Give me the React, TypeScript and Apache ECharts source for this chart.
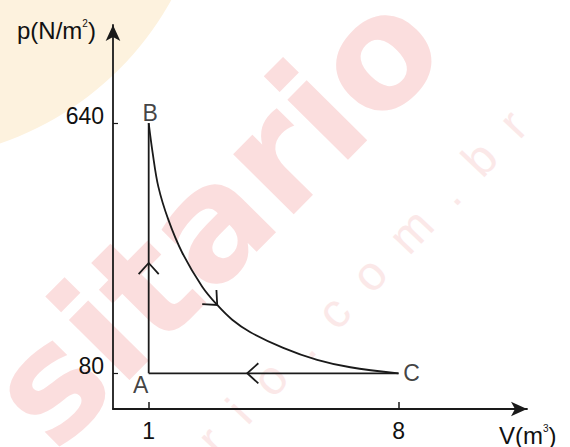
import React, { useEffect, useRef } from "react";
import * as echarts from "echarts";

// ---- data ----
const pointNames = ["A", "B", "C"];
const pointV = [1, 1, 8];
const pointP = [80, 640, 80];

// process A -> B (isochoric)
const abV = [1, 1];
const abP = [80, 640];

// process B -> C (curve)
const curveV = [1, 1.11, 1.27, 1.55, 1.94, 2.5, 2.92, 3.34, 3.85, 4.77, 5.72, 6.65, 8];
const curveP = [640, 574, 498, 424, 350, 274, 233, 200, 172, 137, 110, 93.5, 80];

// process C -> A (isobaric)
const caV = [8, 1];
const caP = [80, 80];

// direction arrows on the cycle: position and heading (degrees)
const arrowV = [1, 2.92, 3.76];
const arrowP = [327, 233, 80];
const arrowDir = [90, -45, 180];

// axis ticks
const xTicks = [1, 8];
const yTicks = [80, 640];

const INK = "#1a1a1a";
const FONT = "'Liberation Sans', Arial, Helvetica, sans-serif";

export default function App() {
  const ref = useRef<HTMLDivElement>(null);

  useEffect(() => {
    if (!ref.current) return;
    const chart = echarts.init(ref.current, undefined, { renderer: "svg" });

    const labelOffsets: Record<string, number[]> = {
      A: [-8, 12],
      B: [1.5, -10.5],
      C: [13, 0],
    };

    const option: any = {
      animation: false,
      backgroundColor: "#ffffff",
      grid: { left: 113, right: 43, top: 25, bottom: 38, containLabel: false },
      xAxis: {
        type: "value",
        min: 0,
        max: 11.6,
        axisLine: {
          show: true,
          symbol: ["none", "arrow"],
          symbolSize: [11, 16],
          lineStyle: { color: INK, width: 1.8 },
        },
        axisTick: {
          show: true,
          inside: true,
          length: 7,
          customValues: xTicks,
          lineStyle: { color: INK, width: 1.5 },
        },
        axisLabel: {
          customValues: xTicks,
          fontSize: 23,
          fontFamily: FONT,
          color: "#111",
          margin: 10,
        },
        splitLine: { show: false },
      },
      yAxis: {
        type: "value",
        min: 0,
        max: 860,
        axisLine: {
          show: true,
          symbol: ["none", "arrow"],
          symbolSize: [11, 16],
          lineStyle: { color: INK, width: 1.8 },
        },
        axisTick: {
          show: true,
          inside: true,
          length: 5,
          customValues: yTicks,
          lineStyle: { color: INK, width: 1.2 },
        },
        axisLabel: {
          customValues: yTicks,
          fontSize: 23,
          fontFamily: FONT,
          color: "#111",
          margin: 9,
          verticalAlign: "bottom",
          lineHeight: 14,
        },
        splitLine: { show: false },
      },
      graphic: [
        {
          type: "circle",
          z: -20,
          silent: true,
          shape: { cx: -100, cy: -150, r: 310 },
          style: { fill: "#fdf2de" },
        },
        {
          type: "text",
          z: -10,
          silent: true,
          x: 215,
          y: 217,
          rotation: 0.79,
          style: {
            text: "sitario",
            fontSize: 156,
            fontWeight: "bold",
            fontFamily: "'DejaVu Sans', sans-serif",
            align: "center",
            verticalAlign: "middle",
            fill: "#fbdede",
          },
        },
        {
          type: "text",
          z: -10,
          silent: true,
          x: 362,
          y: 282,
          rotation: 0.81,
          style: {
            text: "r  i  o  .  c  o  m  .  b  r",
            fontSize: 48,
            fontFamily: FONT,
            align: "center",
            verticalAlign: "middle",
            fill: "#fbe8e8",
          },
        },
        {
          type: "text",
          x: 17,
          y: 30,
          style: {
            text: "p(N/m{s|2})",
            fontSize: 24,
            fontFamily: FONT,
            fill: "#111",
            align: "left",
            verticalAlign: "middle",
            rich: {
              s: { fontSize: 10, fontFamily: FONT, fill: "#111", verticalAlign: "top" },
            },
          },
        },
        {
          type: "text",
          x: 499,
          y: 435,
          style: {
            text: "V(m{s|3})",
            fontSize: 24,
            fontFamily: FONT,
            fill: "#111",
            align: "left",
            verticalAlign: "middle",
            rich: {
              s: { fontSize: 10, fontFamily: FONT, fill: "#111", verticalAlign: "top" },
            },
          },
        },
      ],
      series: [
        {
          type: "line",
          data: abV.map((v, i) => [v, abP[i]]),
          symbol: "none",
          lineStyle: { color: INK, width: 1.8 },
          z: 3,
        },
        {
          type: "line",
          data: curveV.map((v, i) => [v, curveP[i]]),
          symbol: "none",
          smooth: 0.35,
          lineStyle: { color: INK, width: 1.8 },
          z: 3,
        },
        {
          type: "line",
          data: caV.map((v, i) => [v, caP[i]]),
          symbol: "none",
          lineStyle: { color: INK, width: 1.8 },
          z: 3,
        },
        {
          type: "custom",
          coordinateSystem: "cartesian2d",
          data: arrowV.map((v, i) => [v, arrowP[i], arrowDir[i]]),
          encode: { x: 0, y: 1 },
          z: 4,
          renderItem: (_params: any, api: any) => {
            const pt = api.coord([api.value(0), api.value(1)]);
            const ang = (api.value(2) * Math.PI) / 180;
            const bx = -Math.cos(ang);
            const by = Math.sin(ang);
            const L = 15;
            const h = (42 * Math.PI) / 180;
            const arm = (a: number) => [
              pt[0] + L * (bx * Math.cos(a) - by * Math.sin(a)),
              pt[1] + L * (bx * Math.sin(a) + by * Math.cos(a)),
            ];
            return {
              type: "polyline",
              shape: { points: [arm(h), pt, arm(-h)] },
              style: { stroke: INK, lineWidth: 1.8, fill: null },
            };
          },
        },
        {
          type: "scatter",
          data: pointNames.map((n, i) => ({ name: n, value: [pointV[i], pointP[i]] })),
          symbolSize: 0.1,
          itemStyle: { color: "rgba(0,0,0,0)" },
          z: 5,
          label: {
            show: true,
            position: "inside",
            formatter: (p: any) => p.name,
            fontSize: 23,
            fontFamily: FONT,
            color: "#111",
          },
          labelLayout: (p: any) => {
            const off = labelOffsets[pointNames[p.dataIndex]];
            return { dx: off[0], dy: off[1] };
          },
        },
      ],
    };

    chart.setOption(option);
    return () => chart.dispose();
  }, []);

  return (
    <div
      ref={ref}
      style={{ position: "fixed", left: 0, top: 0, width: 570, height: 447 }}
    />
  );
}
